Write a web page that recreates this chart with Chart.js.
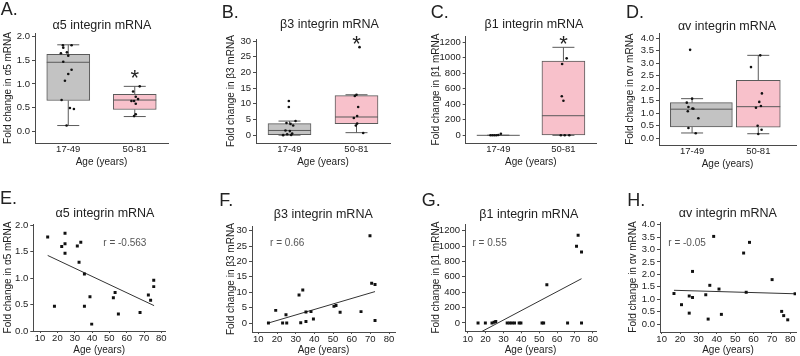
<!DOCTYPE html>
<html>
<head>
<meta charset="utf-8">
<script src="https://cdn.jsdelivr.net/npm/chart.js@4.4.1/dist/chart.umd.min.js"></script>
<style>
    body { margin: 0; background: #fff; }
    #fig { position: relative; width: 800px; height: 356px; overflow: hidden;
           font-family: "Liberation Sans", Arial, sans-serif; color: #222; }
    #fig canvas { position: absolute; }
    .letter { position: absolute; font-size: 18px; line-height: 18px; }
    .ttl { position: absolute; font-size: 12.5px; line-height: 12px; white-space: nowrap; transform: translateX(-50%); }
</style>
</head>
<body>
<div id="fig"></div>
<script>
// ---- data ----
const categories = ['17-49', '50-81'];
const ageTicks = [10, 20, 30, 40, 50, 60, 70, 80];

const a5Ticks = [0, 0.5, 1, 1.5, 2];
const a5Labels = ['0.0', '0.5', '1.0', '1.5', '2.0'];
const b3Ticks = [0, 5, 10, 15, 20, 25, 30];
const b1Ticks = [0, 200, 400, 600, 800, 1000, 1200];
const avTicks = [0, 0.5, 1, 1.5, 2, 2.5, 3, 3.5, 4];
const avLabels = ['0.0', '0.5', '1.0', '1.5', '2.0', '2.5', '3.0', '3.5', '4.0'];

// box stats: [min, Q1, median, Q3, max] for 17-49 and 50-81
const a5Box = [[0.12, 0.65, 1.46, 1.63, 1.83], [0.31, 0.46, 0.66, 0.78, 0.95]];
const b3Box = [[0, 0, 1.5, 3.7, 4.5], [0.8, 3.7, 5.8, 12.6, 12.9]];
const b1Box = [[0, 0, 0, 0, 0], [0, 0, 253, 959, 1135]];
const avBox = [[0.21, 0.45, 1.16, 1.42, 1.58], [0.18, 0.44, 1.26, 2.31, 3.31]];

// individual samples in the box plots (x = group position with jitter)
const a5YoungX = [0.92, 1.05, 0.925, 0.89, 0.98, 1.0, 0.925, 1.05, 1.0, 0.95, 0.9, 1.025, 1.085, 0.975];
const a5YoungY = [1.82, 1.82, 1.77, 1.65, 1.67, 1.60, 1.47, 1.30, 1.21, 1.07, 0.66, 0.49, 0.47, 0.12];
const a5OldX = [2.075, 1.975, 2.015, 2.05, 1.95, 1.99, 2.015, 2.015, 1.99];
const a5OldY = [0.95, 0.84, 0.73, 0.68, 0.64, 0.64, 0.58, 0.36, 0.32];

const b3YoungX = [0.99, 0.99, 0.955, 1.015, 1.055, 1.09, 0.94, 1.005, 0.905, 0.965, 1.04, 1.025];
const b3YoungY = [10.9, 9.0, 3.9, 3.6, 3.1, 4.5, 1.5, 1.3, 0, 0.3, 0.5, 0.05];
const b3OldX = [2.045, 1.975, 2.0, 2.025, 2.01, 1.96, 2.01, 1.99, 2.1];
const b3OldY = [28.1, 12.5, 12.9, 9.0, 6.1, 5.5, 3.7, 3.1, 0.7];

const b1YoungX = [0.88, 0.91, 0.94, 0.97, 1.0, 1.04];
const b1YoungY = [0, 0, 0, 0, 5, 20];
const b1OldX = [2.05, 1.98, 1.975, 2.0, 1.96, 2.02, 2.09];
const b1OldY = [993, 920, 503, 446, 0, 0, 0];

const avYoungX = [0.97, 1.0, 0.92, 0.945, 1.005, 1.02, 0.935, 1.095, 0.945, 1.055];
const avYoungY = [3.53, 1.58, 1.42, 1.25, 1.19, 1.18, 1.08, 0.80, 0.41, 0.20];
const avOldX = [1.89, 2.03, 2.055, 2.015, 1.965, 2.04, 1.99, 2.05, 2.0];
const avOldY = [2.84, 3.31, 1.79, 1.45, 1.22, 1.29, 0.50, 0.34, 0.17];

// significance marks (value above the 50-81 group)
const starA = 1.26, starB = 31.1, starC = 1255;

// correlation panels: age vs fold change
const ageE = [14.4, 18.3, 22.5, 24.4, 24.4, 24.4, 31.5, 32.5, 33.5, 35.6, 35.6, 38.8, 39.8, 52.3, 53.3, 55.2, 67.7, 72.5, 73.8, 75.6, 75.6];
const a5E = [1.78, 0.47, 1.60, 1.85, 1.65, 1.47, 1.61, 1.30, 1.68, 1.08, 0.47, 0.65, 0.13, 0.63, 0.73, 0.32, 0.35, 0.68, 0.58, 0.84, 0.96];
const fitEx = [14.4, 75.8], fitEy = [1.43, 0.48];

const ageF = [15.4, 19.3, 23, 24.8, 25.2, 31.8, 32.7, 33.8, 35.5, 35.5, 38.2, 39.5, 50.5, 51.6, 53.8, 65, 69.8, 70.7, 72.5, 72.5];
const b3F = [0, 4.1, 0, 2.7, 0, 9.1, 0.1, 10.7, 3.6, 0.5, 3.7, 1.3, 5.4, 5.7, 3.5, 3.7, 28.3, 12.9, 12.5, 0.8];
const fitFx = [15.4, 72.5], fitFy = [0, 10.2];

const ageG = [15.8, 19.9, 23.6, 24.8, 25.7, 32.1, 33.5, 34.8, 36.2, 38.8, 39.8, 51.6, 52.5, 54.3, 65.9, 70.9, 71.8, 73.7, 73.7];
const b1G = [0, 0, 0, 10, 20, 0, 0, 0, 0, 0, 0, 0, 0, 498, 0, 997, 1140, 923, 0];
const fitGx = [18.1, 73.7], fitGy = [-108, 576];

const ageH = [16.7, 20.8, 25, 25, 26.8, 26.8, 34, 35.3, 36.2, 38.3, 41.2, 42.5, 54.6, 56, 57.8, 70.1, 75.3, 76.4, 78.6, 82.6];
const avH = [1.23, 0.78, 1.13, 0.44, 2.12, 1.07, 1.18, 0.20, 1.56, 3.53, 1.41, 0.39, 2.86, 1.28, 3.29, 1.79, 0.51, 0.34, 0.17, 1.22];
const fitHx = [16.7, 82.2], fitHy = [1.36, 1.22];

// ---- drawing ----
Chart.defaults.font.family = '"Liberation Sans", Arial, sans-serif';
Chart.defaults.color = '#222';

const axisColor = '#4a4a4a';
const grayFill = '#c3c3c3', pinkFill = '#f8c1cb', boxEdge = '#5a5a5a';

const pairs = (xs, ys) => xs.map((x, i) => ({x: x, y: ys[i]}));

// whiskers, caps and median drawn over each box bar
const whiskers = {
    id: 'whiskers',
    afterDatasetDraw(chart, args, opts) {
        if (!opts.stats || args.meta.type !== 'bar') return;
        const s = opts.stats[args.index];
        const bar = args.meta.data[0];
        const y = chart.scales.y, ctx = chart.ctx;
        const py = v => y.getPixelForValue(v);
        const wx = chart.scales.x.getPixelForValue(args.index + 1);
        const half = bar.width / 2, cap = opts.cap / 2;
        ctx.save();
        ctx.strokeStyle = boxEdge;
        ctx.lineWidth = 1;
        ctx.beginPath();
        ctx.moveTo(wx, py(s[0])); ctx.lineTo(wx, py(s[1]));
        ctx.moveTo(wx, py(s[3])); ctx.lineTo(wx, py(s[4]));
        ctx.moveTo(wx - cap, py(s[0])); ctx.lineTo(wx + cap, py(s[0]));
        ctx.moveTo(wx - cap, py(s[4])); ctx.lineTo(wx + cap, py(s[4]));
        ctx.moveTo(bar.x - half, py(s[2])); ctx.lineTo(bar.x + half, py(s[2]));
        ctx.stroke();
        ctx.restore();
    }
};

// text placed at data coordinates (asterisks, r values)
const notes = {
    id: 'notes',
    afterDatasetsDraw(chart, args, opts) {
        if (!opts.items) return;
        const ctx = chart.ctx;
        ctx.save();
        opts.items.forEach(n => {
            const px = chart.scales.x.getPixelForValue(n.x);
            const py = chart.scales.y.getPixelForValue(n.y);
            ctx.font = n.size + 'px "Liberation Sans", Arial, sans-serif';
            ctx.fillStyle = n.color;
            ctx.textAlign = n.align;
            if (n.text === '*') {
                ctx.textBaseline = 'alphabetic';
                ctx.fillText(n.text, px, py + n.size * 0.6);
            } else {
                ctx.textBaseline = 'middle';
                ctx.fillText(n.text, px, py);
            }
        });
        ctx.restore();
    }
};

function linScale(o) {
    return {
        type: 'linear', min: o.min, max: o.max, offset: false,
        border: {display: true, color: axisColor, width: 1},
        grid: {display: true, drawOnChartArea: false, drawTicks: true, tickLength: o.tickLen, color: axisColor, offset: false},
        ticks: {autoSkip: false, maxRotation: 0, minRotation: 0, padding: o.tickPad,
                font: {size: 9.5}, color: '#222', callback: (v, i) => o.labels[i]},
        title: {display: true, text: o.title, font: {size: 10}, color: '#222', padding: o.titlePad},
        afterBuildTicks: s => { s.ticks = o.ticks.map(v => ({value: v})); },
        afterFit: s => {
            if (o.width != null) s.width = o.width;
            if (o.height != null) s.height = o.height;
        }
    };
}

const fig = document.getElementById('fig');

function addText(cls, text, left, top) {
    const d = document.createElement('div');
    d.className = cls;
    d.textContent = text;
    d.style.left = left + 'px';
    d.style.top = top + 'px';
    fig.appendChild(d);
}

function makePanel(L, datasets, pluginOpts) {
    const cv = document.createElement('canvas');
    cv.width = L.w; cv.height = L.h;
    cv.style.left = L.left + 'px'; cv.style.top = L.top + 'px';
    cv.style.width = L.w + 'px'; cv.style.height = L.h + 'px';
    fig.appendChild(cv);
    addText('letter', L.letter, L.letterX, L.letterY);
    addText('ttl', L.title, L.titleX, L.titleY);
    new Chart(cv.getContext('2d'), {
        type: 'scatter',
        data: {datasets: datasets},
        options: {
            responsive: false, animation: false, events: [],
            layout: {padding: {top: L.padTop, right: L.padRight, left: 0, bottom: 0}},
            plugins: Object.assign({legend: {display: false}, tooltip: {enabled: false}}, pluginOpts),
            scales: {
                x: linScale({min: L.xMin, max: L.xMax, ticks: L.xTicks, labels: L.xLabels, title: 'Age (years)',
                             tickLen: L.xTickLen, tickPad: L.xTickPad, titlePad: {top: 0, bottom: L.xTitlePad}, height: L.xH}),
                y: linScale({min: L.yMin, max: L.yMax, ticks: L.yTicks, labels: L.yLabels, title: L.yTitle,
                             tickLen: 3, tickPad: 2, titlePad: {top: L.yTitlePad, bottom: 0}, width: L.yW})
            }
        },
        plugins: [whiskers, notes]
    });
}

function boxPanel(L, box, yx, yy, ox, oy, star) {
    const barStyle = {type: 'bar', borderColor: boxEdge, borderWidth: 1, borderSkipped: false, grouped: false, order: 2};
    const dotStyle = {type: 'scatter', pointStyle: 'circle', pointRadius: 1.3, backgroundColor: '#111', borderWidth: 0, order: 1};
    const bx = L.boxX || [1, 2];
    const ds = [
        Object.assign({data: [{x: bx[0], y: [box[0][1], box[0][3]]}], barThickness: L.boxW[0], backgroundColor: grayFill}, barStyle),
        Object.assign({data: [{x: bx[1], y: [box[1][1], box[1][3]]}], barThickness: L.boxW[1], backgroundColor: pinkFill}, barStyle),
        Object.assign({data: pairs(yx, yy)}, dotStyle),
        Object.assign({data: pairs(ox, oy)}, dotStyle)
    ];
    const items = star == null ? [] : [{x: 2, y: star, text: '*', size: 22, color: '#222', align: 'center'}];
    L.xTicks = [1, 2];
    L.xLabels = categories;
    L.xTickLen = 1;
    L.xTickPad = 0;
    makePanel(L, ds, {whiskers: {stats: box, cap: 22}, notes: {items: items}});
}

function scatterPanel(L, xs, ys, fx, fy, rText) {
    const ds = [
        {type: 'scatter', data: pairs(xs, ys), pointStyle: 'rect', pointRadius: 2.1, backgroundColor: '#111', borderWidth: 0, order: 1},
        {type: 'line', data: pairs(fx, fy), borderColor: '#333', borderWidth: 1, pointRadius: 0, fill: false, order: 2}
    ];
    L.xTicks = ageTicks;
    L.xLabels = ageTicks.map(String);
    L.xTickLen = 2;
    L.xTickPad = 0;
    makePanel(L, ds, {notes: {items: [{x: L.rX, y: L.rY, text: rText, size: 10, color: '#555', align: 'left'}]}});
}

const num = t => t.map(String);

boxPanel({letter: 'A.', letterX: 0.7, letterY: 0.3, title: 'α5 integrin mRNA', titleX: 102, titleY: 19,
          left: 0, top: 0, w: 200, h: 178, yW: 35, padTop: 33, padRight: 32, xH: 35, xTitlePad: 9.5,
          yTitlePad: 2.5, xMin: 0.5, xMax: 2.5, yMin: -0.25, yMax: 2.08, yTicks: a5Ticks, yLabels: a5Labels,
          yTitle: 'Fold change in α5 mRNA', boxW: [43, 43]},
         a5Box, a5YoungX, a5YoungY, a5OldX, a5OldY, starA);

boxPanel({letter: 'B.', letterX: 221.7, letterY: 2.6, title: 'β3 integrin mRNA', titleX: 329.5, titleY: 18,
          left: 200, top: 0, w: 200, h: 178, yW: 56, padTop: 39.3, padRight: 10, xH: 35, xTitlePad: 9.5,
          yTitlePad: 25.7, xMin: 0.5, xMax: 2.5, yMin: -2.5, yMax: 30.6, yTicks: b3Ticks, yLabels: num(b3Ticks),
          yTitle: 'Fold change in β3 mRNA', boxW: [43, 43]},
         b3Box, b3YoungX, b3YoungY, b3OldX, b3OldY, starB);

boxPanel({letter: 'C.', letterX: 430.7, letterY: 2.6, title: 'β1 integrin mRNA', titleX: 534, titleY: 18,
          left: 400, top: 0, w: 200, h: 178, yW: 65.7, padTop: 36, padRight: 1, xH: 35, xTitlePad: 10,
          yTitlePad: 30.7, xMin: 0.5, xMax: 2.5, yMin: -99, yMax: 1281, yTicks: b1Ticks, yLabels: num(b1Ticks),
          yTitle: 'Fold change in β1 mRNA', boxW: [43, 43]},
         b1Box, b1YoungX, b1YoungY, b1OldX, b1OldY, starC);

boxPanel({letter: 'D.', letterX: 626, letterY: 2.6, title: 'αv integrin mRNA', titleX: 727, titleY: 20,
          left: 600, top: 0, w: 200, h: 178, yW: 59, padTop: 33.3, padRight: 3, xH: 33, xTitlePad: 7.3,
          yTitlePad: 24.7, xMin: 0.5, xMax: 2.57, yMin: -0.27, yMax: 4.19, yTicks: avTicks, yLabels: avLabels,
          yTitle: 'Fold change in αv mRNA', boxW: [62, 44], boxX: [1.14, 2.0]},
         avBox, avYoungX, avYoungY, avOldX, avOldY, null);

scatterPanel({letter: 'E.', letterX: 0, letterY: 189, title: 'α5 integrin mRNA', titleX: 105, titleY: 207,
              left: 0, top: 178, w: 200, h: 178, yW: 33.3, padTop: 46, padRight: 35, xH: 25, xTitlePad: 0,
              yTitlePad: 2, xMin: 6.1, xMax: 82.1, yMin: 0, yMax: 2.025, yTicks: a5Ticks, yLabels: a5Labels,
              yTitle: 'Fold change in α5 mRNA', rX: 46.5, rY: 1.66},
             ageE, a5E, fitEx, fitEy, 'r = -0.563');

scatterPanel({letter: 'F.', letterX: 219.3, letterY: 190.7, title: 'β3 integrin mRNA', titleX: 323.3, titleY: 208,
              left: 200, top: 178, w: 200, h: 178, yW: 52, padTop: 48.3, padRight: 5, xH: 24, xTitlePad: 0,
              yTitlePad: 25.7, xMin: 6.6, xMax: 83.2, yMin: -2.92, yMax: 31.4, yTicks: b3Ticks, yLabels: num(b3Ticks),
              yTitle: 'Fold change in β3 mRNA', rX: 16.3, rY: 26},
             ageF, b3F, fitFx, fitFy, 'r = 0.66');

scatterPanel({letter: 'G.', letterX: 421.7, letterY: 190.7, title: 'β1 integrin mRNA', titleX: 528.8, titleY: 208,
              left: 400, top: 178, w: 200, h: 178, yW: 65, padTop: 46, padRight: 0, xH: 24.7, xTitlePad: 0,
              yTitlePad: 30, xMin: 8.5, xMax: 81.8, yMin: -108, yMax: 1287, yTicks: b1Ticks, yLabels: num(b1Ticks),
              yTitle: 'Fold change in β1 mRNA', rX: 12.7, rY: 1040},
             ageG, b1G, fitGx, fitGy, 'r = 0.55');

scatterPanel({letter: 'H.', letterX: 627.3, letterY: 190.7, title: 'αv integrin mRNA', titleX: 727.8, titleY: 207,
              left: 600, top: 178, w: 200, h: 178, yW: 60, padTop: 44, padRight: 3.3, xH: 24, xTitlePad: 0,
              yTitlePad: 27, xMin: 9.1, xMax: 83.1, yMin: -0.32, yMax: 4.11, yTicks: avTicks, yLabels: avLabels,
              yTitle: 'Fold change in αv mRNA', rX: 13.6, rY: 3.26},
             ageH, avH, fitHx, fitHy, 'r = -0.05');
</script>
</body>
</html>
